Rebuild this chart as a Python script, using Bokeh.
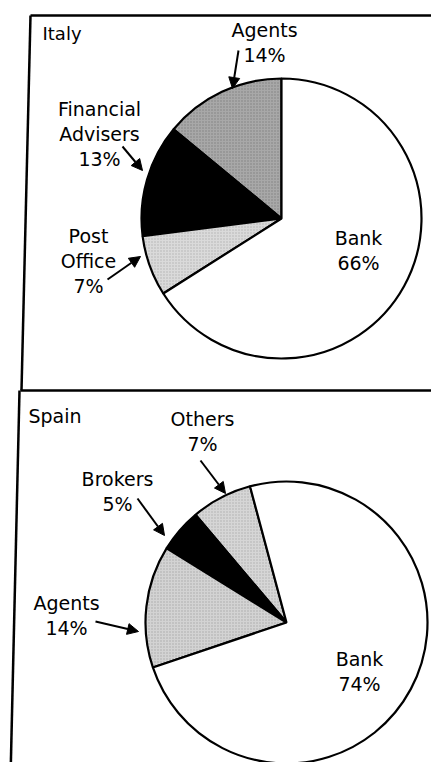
import math
from bokeh.plotting import figure
from bokeh.models import Arrow, NormalHead, Label
from bokeh.embed import file_html
from bokeh.resources import INLINE

# ---- data ----
italy_categories = ["Agents", "Financial Advisers", "Post Office", "Bank"]
italy_values = [14, 13, 7, 66]
spain_categories = ["Others", "Brokers", "Agents", "Bank"]
spain_values = [7, 5, 14, 74]

# ---- styles ----
italy_colors = ["#a8a8a8", "#000000", "#dadada", "#ffffff"]
italy_hatch = ["#777777", None, "#a8a8a8", None]
spain_colors = ["#d6d6d6", "#000000", "#d3d3d3", "#ffffff"]
spain_hatch = ["#a5a5a5", None, "#a0a0a0", None]

FONT = "DejaVu Sans"
FS = "19px"
W, H = 431, 762


def Y(y):
    return H - y


p = figure(width=W, height=H, x_range=(0, W), y_range=(0, H),
           output_backend="svg", toolbar_location=None, min_border=0,
           background_fill_color="white", border_fill_color="white")
p.axis.visible = False
p.grid.visible = False
p.outline_line_color = None


def draw_pie(cx, cy, r, start_deg, cats, vals, colors, hatches):
    total = float(sum(vals))
    a = math.radians(start_deg)
    for c, v, col, hc in zip(cats, vals, colors, hatches):
        b = a + 2 * math.pi * v / total
        kw = dict(x=[cx], y=[Y(cy)], radius=r, start_angle=a, end_angle=b,
                  direction="anticlock", fill_color=col, line_color="black",
                  line_width=2.2)
        if hc:
            kw.update(hatch_pattern=".", hatch_color=hc, hatch_scale=3,
                      hatch_weight=1, hatch_alpha=0.8)
        p.wedge(**kw)
        a = b


draw_pie(281, 218, 140, 90, italy_categories, italy_values, italy_colors, italy_hatch)
draw_pie(286, 622, 141, 105, spain_categories, spain_values, spain_colors, spain_hatch)

# ---- panel borders ----
for xs, ys in [
    ([30, 447], [15, 15]),
    ([30, 21], [15, 390]),
    ([20, 447], [390, 390]),
    ([19, 10], [390, 778]),
]:
    p.line(xs, [Y(v) for v in ys], line_width=2.5, line_color="black")


def add_label(text, x, y, align="center", size=FS):
    p.add_layout(Label(x=x, y=Y(y), text=text, text_align=align,
                       text_baseline="middle", text_font=FONT,
                       text_font_size=size, text_color="black"))


def add_block(cat, val, x, y, dy=25):
    lines = cat.split(" ") + [f"{val}%"]
    for i, t in enumerate(lines):
        add_label(t, x, y + i * dy)


def add_arrow(x0, y0, x1, y1):
    p.add_layout(Arrow(x_start=x0, y_start=Y(y0), x_end=x1, y_end=Y(y1),
                       line_width=2, line_color="black",
                       end=NormalHead(size=11, fill_color="black",
                                      line_color="black")))


# Italy
add_label("Italy", 42, 33, align="left", size="18px")
italy_pos = [(264, 29), (99, 108), (88, 235), (358, 237)]
for c, v, (x, y) in zip(italy_categories, italy_values, italy_pos):
    add_block(c, v, x, y)
add_arrow(238, 50, 232, 88)
add_arrow(122, 146, 142, 170)
add_arrow(107, 279, 140, 256)

# Spain
add_label("Spain", 28, 415, align="left", size="19px")
spain_pos = [(202, 418), (117, 478), (66, 602), (359, 658)]
for c, v, (x, y) in zip(spain_categories, spain_values, spain_pos):
    add_block(c, v, x, y)
add_arrow(200, 460, 225, 493)
add_arrow(137, 498, 164, 535)
add_arrow(95, 621, 138, 631)

open("out.html", "w").write(file_html(p, INLINE))
